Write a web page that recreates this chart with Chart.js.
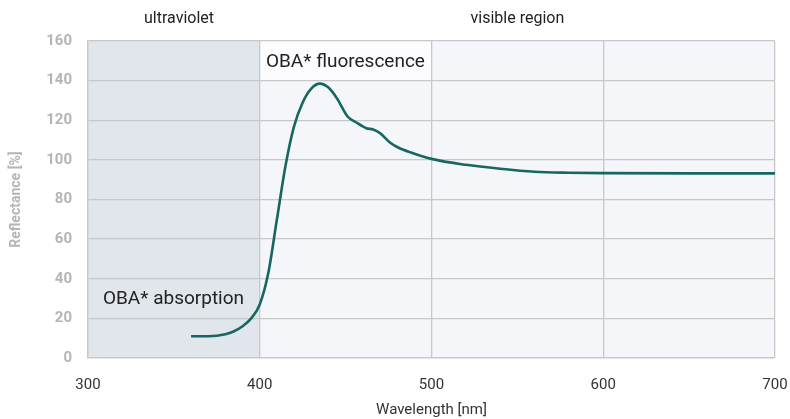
<!DOCTYPE html>
<html lang="en">
<head>
<meta charset="UTF-8">
<title>Reflectance spectrum</title>
<script src="https://cdn.jsdelivr.net/npm/chart.js"></script>
<style>
  html, body { margin: 0; padding: 0; background: #ffffff; }
  #wrap { width: 790px; height: 419px; position: relative; }
</style>
</head>
<body>
<div id="wrap"><canvas id="myChart" width="790" height="419"></canvas></div>
<script>
// wavelength [nm] and reflectance [%]
const wavelengths = [360, 370, 380, 385, 390, 395, 400, 405, 410, 415, 420, 425, 430, 435, 440, 445, 451, 456, 462, 466, 470, 476, 480, 488, 500, 520, 540, 560, 580, 600, 650, 700];
const reflectance = [11, 11, 12, 13.5, 16, 20, 27, 43, 70, 97, 117, 129, 136, 138.5, 136.5, 131, 122, 119, 116, 115.3, 113.5, 108.6, 106.5, 103.7, 100.5, 97.5, 95.5, 94, 93.5, 93.3, 93.2, 93.2];
const yTicks = [0, 20, 40, 60, 80, 100, 120, 140, 160];
const xTicks = [300, 400, 500, 600, 700];
const regionLabels = [
    { text: 'ultraviolet', from: 300, to: 406 },
    { text: 'visible region', from: 400, to: 700 }
];
const uvRange = [300, 400];

const font = "Roboto, 'DejaVu Sans', sans-serif";

const backdrop = {
    id: 'backdrop',
    beforeDraw(chart) {
        const { ctx, chartArea: a, scales: { x, y } } = chart;
        ctx.save();
        ctx.fillStyle = '#f5f6fa';
        ctx.fillRect(a.left, a.top, a.right - a.left, a.bottom - a.top);
        ctx.fillStyle = '#e1e5ec';
        ctx.fillRect(x.getPixelForValue(uvRange[0]), a.top, x.getPixelForValue(uvRange[1]) - x.getPixelForValue(uvRange[0]), a.bottom - a.top);
        // white box behind the fluorescence label
        ctx.fillStyle = '#fcfcfe';
        ctx.fillRect(x.getPixelForValue(400), y.getPixelForValue(160), x.getPixelForValue(500) - x.getPixelForValue(400), y.getPixelForValue(140) - y.getPixelForValue(160));
        ctx.restore();
    },
    afterDraw(chart) {
        const { ctx, scales: { x, y } } = chart;
        ctx.save();
        ctx.fillStyle = '#222';
        ctx.font = '16px ' + font;
        ctx.textAlign = 'center';
        ctx.textBaseline = 'middle';
        regionLabels.forEach(r => {
            ctx.fillText(r.text, (x.getPixelForValue(r.from) + x.getPixelForValue(r.to)) / 2, 19);
        });
        ctx.font = '19px ' + font;
        ctx.textAlign = 'left';
        ctx.fillText('OBA* fluorescence', x.getPixelForValue(403.6), y.getPixelForValue(149.5));
        ctx.fillText('OBA* absorption', x.getPixelForValue(308.7), y.getPixelForValue(29.5));
        ctx.restore();
    }
};

const ctx = document.getElementById('myChart').getContext('2d');
new Chart(ctx, {
    type: 'line',
    data: {
        datasets: [{
            data: wavelengths.map((w, i) => ({ x: w, y: reflectance[i] })),
            borderColor: '#17665f',
            borderWidth: 2.6,
            pointRadius: 0,
            fill: false,
            cubicInterpolationMode: 'monotone'
        }]
    },
    options: {
        responsive: false,
        animation: false,
        layout: { padding: { top: 41, right: 15, left: 0, bottom: 0 } },
        plugins: { legend: { display: false }, tooltip: { enabled: false } },
        scales: {
            x: {
                type: 'linear',
                min: 300,
                max: 700,
                afterBuildTicks: s => { s.ticks = xTicks.map(v => ({ value: v })); },
                afterFit: s => { s.height = 61; s.paddingRight = 0; s.paddingLeft = 0; },
                grid: { color: '#c8c8c8', lineWidth: 1.3, drawTicks: false },
                border: { color: '#c8c8c8', width: 1.3 },
                ticks: { color: '#333', font: { family: font, size: 15 }, padding: 18 },
                title: { display: true, text: 'Wavelength [nm]', color: '#333', font: { family: font, size: 15 }, padding: { top: 4, bottom: 0 } }
            },
            y: {
                min: 0,
                max: 160,
                afterBuildTicks: s => { s.ticks = yTicks.map(v => ({ value: v })); },
                afterFit: s => { s.width = 88; },
                grid: { color: '#c8c8c8', lineWidth: 1.3, drawTicks: false },
                border: { color: '#c8c8c8', width: 1.3 },
                ticks: { color: '#b5b5b5', font: { family: font, size: 15, weight: 'bold' }, padding: 16 },
                title: { display: true, text: 'Reflectance [%]', color: '#b5b5b5', font: { family: font, size: 14, weight: 'bold' }, padding: { top: 8, bottom: 4 } }
            }
        }
    },
    plugins: [backdrop]
});
</script>
</body>
</html>
